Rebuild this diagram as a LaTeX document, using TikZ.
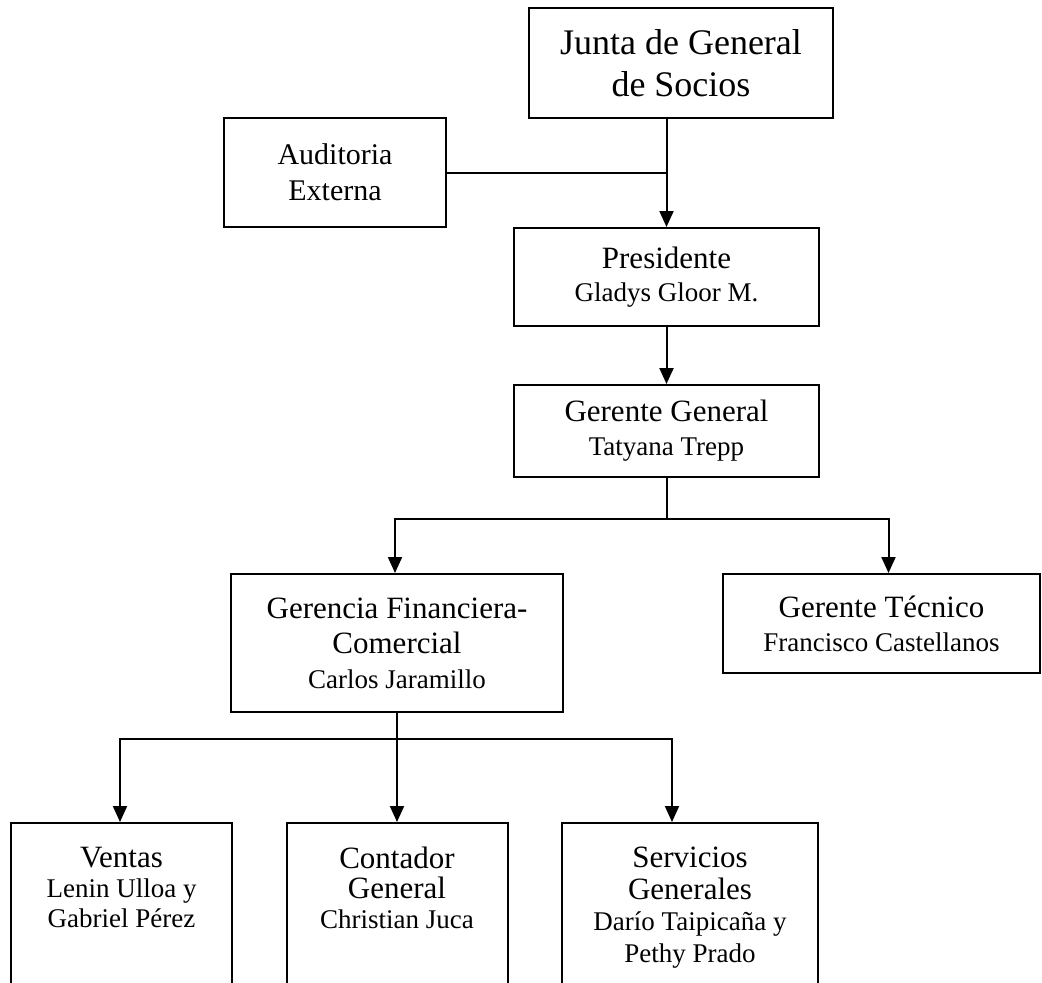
\documentclass[tikz,border=0pt]{standalone}
\usepackage{fontspec}
\setmainfont{Liberation Serif}
\usetikzlibrary{arrows.meta}
\newcommand{\bigf}{\fontsize{36}{42}\selectfont}
\newcommand{\titf}{\fontsize{31}{35}\selectfont}
\newcommand{\namf}{\fontsize{27}{32}\selectfont}
\begin{document}
\begin{tikzpicture}[x=1pt,y=-1pt,
  box/.style={draw, line width=2pt, rectangle, inner sep=0pt, align=center},
  txt/.style={inner sep=0pt, align=center},
  conn/.style={line width=2pt},
  arr/.style={line width=2pt, -{Triangle[length=16pt,width=14pt]}}]
\useasboundingbox (0,0) rectangle (1042,983);
\clip (0,0) rectangle (1042,983);
\fill[white] (0,0) rectangle (1042,983);

\node[box, minimum width=304, minimum height=110, font=\fontsize{36}{42}\selectfont] (junta) at (681,63)
  {Junta de General\\de Socios};
\node[box, minimum width=222, minimum height=109, font=\fontsize{30}{36}\selectfont] (aud) at (335,172.5)
  {Auditoria\\Externa};
\node[box, minimum width=305, minimum height=98, font=\fontsize{27}{33}\selectfont] (pres) at (666.5,277)
  {\titf Presidente\\\namf Gladys Gloor M.};
\node[box, minimum width=305, minimum height=92, font=\fontsize{27}{34}\selectfont] (gg) at (666.5,431)
  {\titf Gerente General\\\namf Tatyana Trepp};
\node[box, minimum width=332, minimum height=138, font=\fontsize{27}{35}\selectfont] (gfin) at (397,643)
  {\titf Gerencia Financiera-\\\titf Comercial\\\namf Carlos Jaramillo};
\node[box, minimum width=317, minimum height=99, font=\fontsize{27}{34}\selectfont] (gtec) at (881.5,623.5)
  {\titf Gerente Técnico\\\namf Francisco Castellanos};

\node[box, anchor=north, minimum width=221, minimum height=200] (ventas) at (121.5,822) {};
\node[box, anchor=north, minimum width=221, minimum height=200] (cont) at (397,822) {};
\node[box, anchor=north, minimum width=256, minimum height=200] (serv) at (690,822) {};
\node[txt, anchor=north, font=\fontsize{27}{30}\selectfont] (tventas) at ([yshift=-25pt]ventas.north)
  {\titf Ventas\\\namf Lenin Ulloa y\\\namf Gabriel Pérez};
\node[txt, anchor=north, font=\fontsize{27}{30}\selectfont] (tcont) at ([yshift=-25pt]cont.north)
  {\titf Contador\\\titf General\\\namf Christian Juca};
\node[txt, anchor=north, font=\fontsize{27}{31.5}\selectfont] (tserv) at ([yshift=-25pt]serv.north)
  {\titf Servicios\\\titf Generales\\\namf Darío Taipicaña y\\\namf Pethy Prado};

% top connectors
\draw[arr] (junta.south -| pres.north) -- (pres.north);
\draw[conn] (aud.east) -- (aud.east -| pres.north);
\draw[arr] (pres.south) -- (gg.north);

% level 2
\coordinate (j1) at (666.5,519);
\draw[conn] (gg.south) -- (j1);
\draw[arr] (j1) -| ([xshift=-2pt]gfin.north);
\draw[arr] (j1) -| ([xshift=7pt]gtec.north);

% level 3
\coordinate (j2) at (397,739);
\draw[conn] (gfin.south) -- (j2);
\draw[arr] (j2) -| ([xshift=-1.5pt]ventas.north);
\draw[arr] (j2) -- (cont.north);
\draw[arr] (j2) -| ([xshift=-18pt]serv.north);
\end{tikzpicture}
\end{document}
